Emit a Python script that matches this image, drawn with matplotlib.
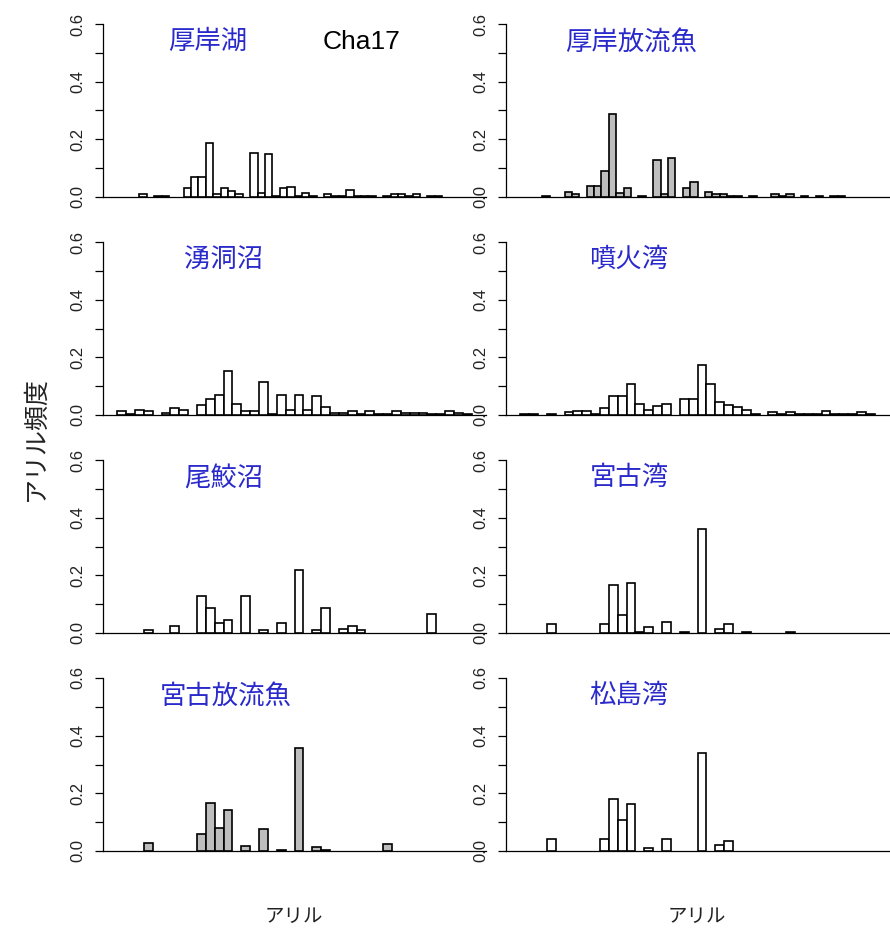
import matplotlib.pyplot as plt
import numpy as np

plt.rcParams['font.family'] = ['Liberation Sans', 'Noto Sans CJK JP']

# Cha17 アリル頻度（集団ごと、アリルは小さい順）
akkeshi_lake = [0, 0, 0, .009, 0, .003, .003, 0, 0, .030,
                .070, .070, .186, .009, .030, .021, .009, 0, .154, .015,
                .149, .003, .030, .036, .003, .015, .003, 0, .009, .003,
                .003, .024, .003, .003, .003, 0, .003, .009, .009, .003,
                .009, 0, .003, .003, 0, 0, 0, 0]
akkeshi_release = [0, 0, 0, .003, 0, 0, .016, .010, 0, .037,
                   .037, .089, .289, .014, .031, 0, .003, 0, .130, .010,
                   .135, 0, .031, .052, 0, .016, .009, .009, .003, .003,
                   0, .003, 0, 0, .010, .005, .010, 0, .003, 0,
                   .003, 0, .003, .003, 0, 0, 0, 0]
yudo_numa = [.013, .003, .019, .013, 0, .007, .023, .019, 0, .034,
             .055, .070, .154, .039, .013, .013, .113, .003, .070, .019,
             .070, .019, .065, .028, .007, .007, .014, .003, .014, .003,
             .003, .014, .007, .007, .007, .003, .003, .014, .007, .003]
funka_bay = [.003, .003, 0, .003, 0, .009, .015, .015, .003, .024,
             .065, .065, .108, .039, .019, .030, .039, 0, .055, .055,
             .175, .108, .045, .034, .028, .019, .003, 0, .009, .003,
             .009, .003, .003, .003, .015, .003, .003, .003, .009, .003]
obuchi_numa = [0, 0, 0, .009, 0, 0, .023, 0, 0, .127,
               .087, .035, .046, 0, .127, 0, .009, 0, .036, 0,
               .220, 0, .009, .087, 0, .014, .024, .009, 0, 0,
               0, 0, 0, 0, 0, .067, 0, 0, 0, 0]
miyako_bay = [0, 0, 0, .030, 0, 0, 0, 0, 0, .030,
              .168, .061, .173, .003, .021, 0, .038, 0, .003, 0,
              .360, 0, .015, .030, 0, .003, 0, 0, 0, 0,
              .003, 0, 0, 0, 0, 0, 0, 0, 0, 0]
miyako_release = [0, 0, 0, .027, 0, 0, 0, 0, 0, .059,
                  .168, .079, .142, 0, .017, 0, .075, 0, .003, 0,
                  .358, 0, .013, .004, 0, 0, 0, 0, 0, 0,
                  .023, 0, 0, 0, 0, 0, 0, 0, 0, 0]
matsushima_bay = [0, 0, 0, .040, 0, 0, 0, 0, 0, .040,
                  .179, .108, .164, 0, .009, 0, .040, 0, 0, 0,
                  .339, 0, .020, .035, 0, 0, 0, 0, 0, 0,
                  0, 0, 0, 0, 0, 0, 0, 0, 0, 0]

names = ["厚岸湖", "厚岸放流魚", "湧洞沼", "噴火湾",
         "尾鮫沼", "宮古湾", "宮古放流魚", "松島湾"]
freqs = [akkeshi_lake, akkeshi_release, yudo_numa, funka_bay,
         obuchi_numa, miyako_bay, miyako_release, matsushima_bay]
fills = ["white", "#bebebe", "white", "white",
         "white", "white", "#bebebe", "white"]
# 集団名の中心位置（ピクセル）
name_x = [208, 631, 224, 629, 224, 629, 226, 629]

W, H = 890, 932
fig = plt.figure(figsize=(W / 100, H / 100), dpi=100)

for k in range(8):
    row, col = divmod(k, 2)
    left = 103 if col == 0 else 506
    y0 = 197 + 218 * row
    ax = fig.add_axes([left / W, 1 - y0 / H, 383 / W, 173 / H])

    h = np.array(freqs[k])
    n = len(h)
    idx = np.arange(n)
    m = h > 0
    ax.bar(idx[m], h[m], width=1, align='edge', color=fills[k],
           edgecolor='black', linewidth=1.2, clip_on=False, zorder=3)
    ax.set_xlim(-0.04 * n, 1.04 * n)
    ax.set_ylim(0, 0.6)

    for s in ['top', 'right']:
        ax.spines[s].set_visible(False)
    ax.spines['left'].set_bounds(0, 0.6)
    ax.spines['left'].set_linewidth(0.9)
    ax.spines['bottom'].set_linewidth(0.9)
    ax.set_xticks([])
    ax.set_yticks(np.arange(0, 0.61, 0.1))
    ax.set_yticklabels(['0.0', '', '0.2', '', '0.4', '', '0.6'],
                       rotation=90, va='center', fontsize=12, color='#222222')
    ax.tick_params(axis='y', length=5.5, width=0.9, pad=7)

    ax.text((name_x[k] - left) / 383, (y0 - 42 - 218 * row) / 173, names[k],
            transform=ax.transAxes, ha='center', va='center',
            fontsize=19, color='#2a2acc')
    if k == 0:
        ax.text((362 - left) / 383, (y0 - 42) / 173, "Cha17",
                transform=ax.transAxes, ha='center', va='center',
                fontsize=19, color='black')

fig.text(36 / W, 1 - 438 / H, "アリル頻度", rotation=90,
         ha='center', va='center', fontsize=18, color='#222222')
fig.text(294 / W, 1 - 917 / H, "アリル", ha='center', va='center',
         fontsize=14, color='#222222')
fig.text(697 / W, 1 - 917 / H, "アリル", ha='center', va='center',
         fontsize=14, color='#222222')

fig.savefig("out.png", dpi=100)
